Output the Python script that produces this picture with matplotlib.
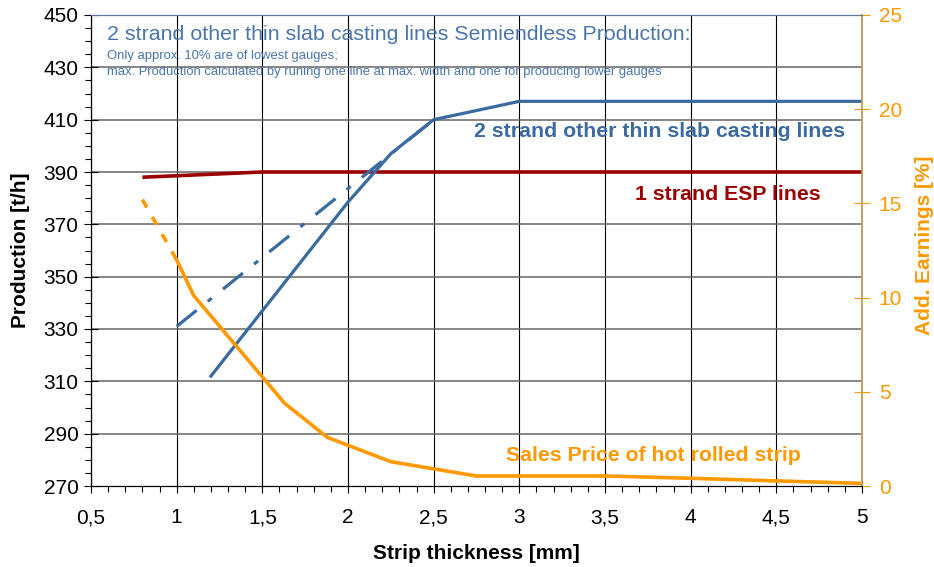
import matplotlib
matplotlib.use("Agg")
import matplotlib.pyplot as plt
from matplotlib.ticker import MultipleLocator, FixedLocator, FuncFormatter

plt.rcParams['font.family'] = ['Liberation Sans', 'DejaVu Sans']

# 1 strand ESP lines (left axis, t/h)
esp_x = [0.8, 1.5, 5.0]
esp_y = [388, 390, 390]

# 2 strand other thin slab casting lines, solid (left axis)
ts_x = [1.2, 2.0, 2.25, 2.5, 3.0, 5.0]
ts_y = [312, 378.5, 397, 410, 417, 417]

# 2 strand, semiendless production, dash-dot (left axis)
semi_x = [1.0, 2.5]
semi_y = [331, 410]

# sales price of hot rolled strip (right axis, %)
price_dash_x = [0.8, 1.0]
price_dash_y = [15.2, 12.0]
price_x = [1.0, 1.1, 1.63, 1.88, 2.25, 2.75, 3.5, 4.0, 4.5, 5.0]
price_y = [12.0, 10.1, 4.39, 2.58, 1.29, 0.53, 0.53, 0.41, 0.27, 0.14]

left_ticks = list(range(270, 451, 20))

BLUE = '#3b6aa0'
RED = '#9b0000'
ORANGE = '#ff9900'

W, H = 934, 567
fig = plt.figure(figsize=(W / 100, H / 100), dpi=100)
ax = fig.add_axes([91 / W, 1 - 486 / H, (862 - 91) / W, (486 - 15) / H])
ax2 = ax.twinx()

ax.set_xlim(0.5, 5)
ax.set_ylim(270, 450)
ax2.set_ylim(0, 25)

# grid
for v in [0.5 * i for i in range(1, 11)]:
    ax.axvline(v, color='black', lw=0.8, zorder=0)
for h in left_ticks[1:-1]:
    ax.axhline(h, color='#666666', lw=1.1, zorder=0)

ax.plot(esp_x, esp_y, color=RED, lw=2.6, solid_capstyle='butt', zorder=3)
ax.plot(ts_x, ts_y, color=BLUE, lw=2.3, zorder=3)
ax.plot(semi_x, semi_y, color=BLUE, lw=2.3, dashes=(8, 4.5, 1.6, 4.5), zorder=3)
ax2.plot(price_dash_x, price_dash_y, color=ORANGE, lw=2.6, dashes=(2.5, 3))
ax2.plot(price_x, price_y, color=ORANGE, lw=2.6)

# ticks
comma = FuncFormatter(lambda v, p: ('%g' % v).replace('.', ','))
ax.xaxis.set_major_locator(MultipleLocator(0.5))
ax.xaxis.set_minor_locator(MultipleLocator(0.1))
ax.xaxis.set_major_formatter(comma)
ax.yaxis.set_major_locator(FixedLocator(left_ticks))
ax.yaxis.set_minor_locator(MultipleLocator(5))
ax.tick_params(axis='both', which='major', direction='inout', length=10, width=0.8,
               labelsize=15, colors='black')
ax.tick_params(axis='x', which='major', pad=11)
ax.tick_params(axis='y', which='major', pad=4)
ax.tick_params(axis='both', which='minor', direction='out', length=4, width=0.8)

ax2.yaxis.set_major_locator(MultipleLocator(5))
ax2.tick_params(axis='y', which='major', direction='inout', length=12, width=0.8,
                labelsize=15, colors=ORANGE, pad=6)

for a in (ax, ax2):
    a.spines['top'].set_color('#5b7b9b')
    a.spines['left'].set_color('black')
    a.spines['bottom'].set_color('black')
    a.spines['right'].set_color('#c4a060')
    a.spines['right'].set_linewidth(1.2)

ax.set_xlabel('Strip thickness [mm]', fontsize=15, fontweight='bold', labelpad=12)
ax.set_ylabel('Production [t/h]', fontsize=15, fontweight='bold', labelpad=10)

# annotations
def ftext(px, py, s, **kw):
    fig.text(px / W, 1 - py / H, s, **kw)

ftext(924, 245, 'Add. Earnings [%]', fontsize=15, fontweight='bold', color=ORANGE,
      rotation=90, ha='center', va='center')
ftext(107, 40, '2 strand other thin slab casting lines Semiendless Production:',
      fontsize=15.4, color='#4a76ab', va='baseline')
ftext(107, 59, 'Only approx. 10% are of lowest gauges;', fontsize=9.4, color='#4a76ab',
      va='baseline')
ftext(107, 75, 'max. Production calculated by runing one line at max. width and one for producing lower gauges',
      fontsize=9.4, color='#4a76ab', va='baseline')
ftext(474, 137, '2 strand other thin slab casting lines', fontsize=15.3,
      fontweight='bold', color=BLUE, va='baseline')
ftext(635, 200, '1 strand ESP lines', fontsize=15.3, fontweight='bold', color=RED,
      va='baseline')
ftext(506, 461, 'Sales Price of hot rolled strip', fontsize=15.3, fontweight='bold',
      color=ORANGE, va='baseline')

fig.savefig('out.png', dpi=100)
